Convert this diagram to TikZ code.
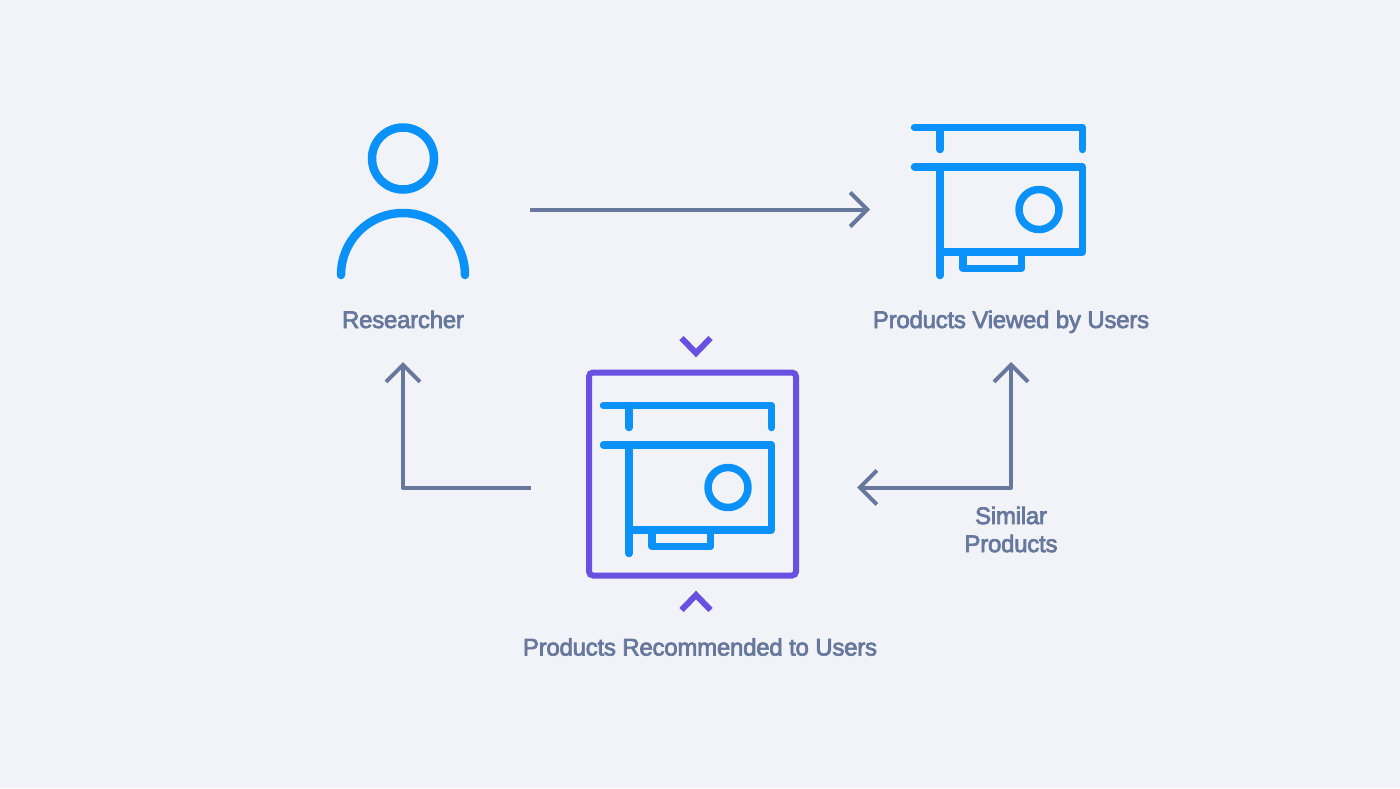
\documentclass[tikz,border=0pt]{standalone}
\usepackage{fontspec}
\setmainfont{Liberation Sans}[FakeBold=3, LetterSpace=-1.0]
\usetikzlibrary{arrows.meta}
\definecolor{paper}{RGB}{241, 243, 248}
\definecolor{icon}{RGB}{10, 145, 250}
\definecolor{frame}{RGB}{106, 80, 224}
\definecolor{slate}{RGB}{103, 120, 156}
\tikzset{
  flow/.style={draw=slate, line width=2pt, line join=round,
    >={Straight Barb[length=8.5pt, width=17pt, line width=2pt]}},
  glyph/.style={draw=icon, line width=3.75pt, line cap=round, line join=round},
  chevron/.style={draw=frame, line width=3pt},
  caption/.style={text=slate, font=\fontsize{12}{14}\selectfont, align=center},
  card/.pic={
    \draw[glyph] (-84, -82) -- (84, -82) -- (84, -60);
    \draw[glyph] (-58.5, -82) -- (-58.5, -60);
    \draw[glyph] (-84, -42.5) -- (84, -42.5) -- (84, 42.5) -- (-58.5, 42.5);
    \draw[glyph] (-58.5, -42.5) -- (-58.5, 66);
    \draw[glyph] (-35.5, 42.5) -- (-35.5, 59) -- (23, 59) -- (23, 42.5);
    \draw[glyph] (40.5, 0) circle (20);
  }
}
\begin{document}
\begin{tikzpicture}[x=0.5pt, y=-0.5pt]
  \fill[paper] (0, 0) rectangle (1400, 788);

  % person
  \draw[glyph, line width=4.25pt] (403, 158.5) circle (31);
  \draw[glyph, line width=4.25pt] (341, 275) arc[start angle=180, end angle=360, radius=62];
  \node[caption, anchor=base] (researcher) at (403, 328) {Researcher};

  % viewed card
  \pic at (998.5, 209.5) {card};
  \node[caption, anchor=base] (viewed) at (1011, 328) {Products Viewed by Users};

  % recommended card
  \node[draw=frame, line width=3pt, rounded corners=2pt, minimum width=103.5pt,
    minimum height=101.5pt, inner sep=0pt] (recommended) at (692.5, 474) {};
  \pic at (687.5, 487.5) {card};
  \draw[chevron] (681.5, 338) -- (696, 353) -- (710.5, 338);
  \draw[chevron] (681.5, 610) -- (696, 595) -- (710.5, 610);
  \node[caption, anchor=base] (recommendedlabel) at (700, 655.5) {Products Recommended to Users};

  \node[caption] (similar) at (1011, 529.5) {Similar\\Products};

  % connectors
  \coordinate (viewout) at (530, 209.5);
  \coordinate (viewin) at (870, 209.5);
  \coordinate (backout) at (530.5, 487.5);
  \coordinate (backin) at (403, 362);
  \coordinate (simout) at (1011, 362);
  \coordinate (simin) at (857, 487.5);

  \draw[flow, ->] (viewout) -- (viewin);
  \draw[flow, ->] (backout) -| (backin);
  \draw[flow, <->] (simout) |- (simin);
\end{tikzpicture}
\end{document}
